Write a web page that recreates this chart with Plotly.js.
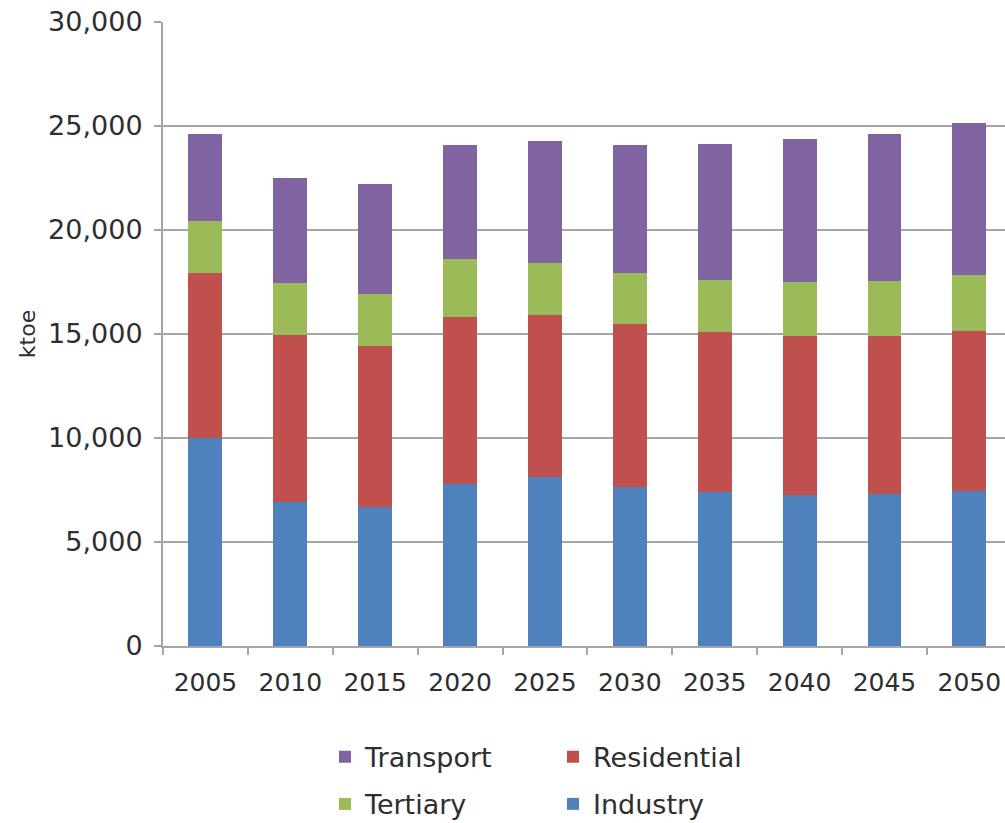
<!DOCTYPE html>
<html>
<head>
<meta charset="utf-8">
<script src="https://cdn.plot.ly/plotly-3.0.1.min.js"></script>
<style>
  html, body { margin: 0; padding: 0; background: #ffffff; }
  #chart { width: 1005px; height: 823px; }
</style>
</head>
<body>
<div id="chart"></div>
<script>
const years = ["2005", "2010", "2015", "2020", "2025", "2030", "2035", "2040", "2045", "2050"];
const industry    = [10000, 6900, 6700, 7790, 8140, 7630, 7420, 7280, 7310, 7440];
const residential = [7950, 8050, 7730, 8030, 7760, 7870, 7680, 7630, 7600, 7710];
const tertiary    = [2480, 2510, 2510, 2800, 2500, 2450, 2480, 2610, 2640, 2690];
const transport   = [4190, 5040, 5250, 5490, 5900, 6160, 6560, 6840, 7070, 7310];
const yTicks = [0, 5000, 10000, 15000, 20000, 25000, 30000];

const font = "DejaVu Sans, Verdana, sans-serif";
const textColor = "#2e2e2e";
const gridColor = "#a6a6a6";

function barTrace(name, values, color, legend, rank) {
  return {
    type: "bar",
    name: name,
    x: years,
    y: values,
    marker: { color: color, line: { width: 0 } },
    legend: legend,
    legendgroup: name,
    legendrank: rank,
    hoverinfo: "x+y+name"
  };
}

const data = [
  barTrace("Industry", industry, "#4f81bd", "legend2", 2),
  barTrace("Residential", residential, "#c0504d", "legend2", 1),
  barTrace("Tertiary", tertiary, "#9bbb59", "legend", 2),
  barTrace("Transport", transport, "#8064a2", "legend", 1)
];

const legendCommon = {
  orientation: "v",
  xanchor: "left",
  yanchor: "top",
  y: -0.139,
  font: { family: font, size: 27, color: textColor },
  bgcolor: "rgba(0,0,0,0)",
  tracegroupgap: 9,
  itemwidth: 30,
  traceorder: "grouped"
};

const layout = {
  width: 1005,
  height: 823,
  margin: { l: 163, r: 0, t: 22, b: 177, pad: 0, autoexpand: false },
  paper_bgcolor: "#ffffff",
  plot_bgcolor: "#ffffff",
  barmode: "stack",
  bargap: 0.6,
  font: { family: font, color: textColor },
  showlegend: true,
  legend: Object.assign({}, legendCommon, { x: (325 - 163) / 842 }),
  legend2: Object.assign({}, legendCommon, { x: (553 - 163) / 842 }),
  xaxis: {
    type: "category",
    range: [-0.5, 9.42],
    tickson: "boundaries",
    ticks: "outside",
    ticklen: 7,
    tickwidth: 2,
    tickcolor: gridColor,
    showline: true,
    linecolor: gridColor,
    linewidth: 2,
    showgrid: false,
    zeroline: false,
    ticklabelstandoff: 13,
    tickfont: { family: font, size: 25, color: textColor }
  },
  yaxis: {
    range: [0, 30000],
    tickmode: "array",
    tickvals: yTicks,
    tickformat: ",d",
    ticks: "outside",
    ticklen: 7,
    tickwidth: 2,
    tickcolor: gridColor,
    showline: true,
    linecolor: gridColor,
    linewidth: 2,
    showgrid: true,
    gridcolor: gridColor,
    gridwidth: 2,
    zeroline: false,
    ticklabelstandoff: 6,
    tickfont: { family: font, size: 27, color: textColor },
    title: {
      text: "ktoe",
      font: { family: font, size: 22, color: textColor },
      standoff: 6
    }
  }
};

Plotly.newPlot("chart", data, layout, { displayModeBar: false, responsive: false, staticPlot: true });
</script>
</body>
</html>
